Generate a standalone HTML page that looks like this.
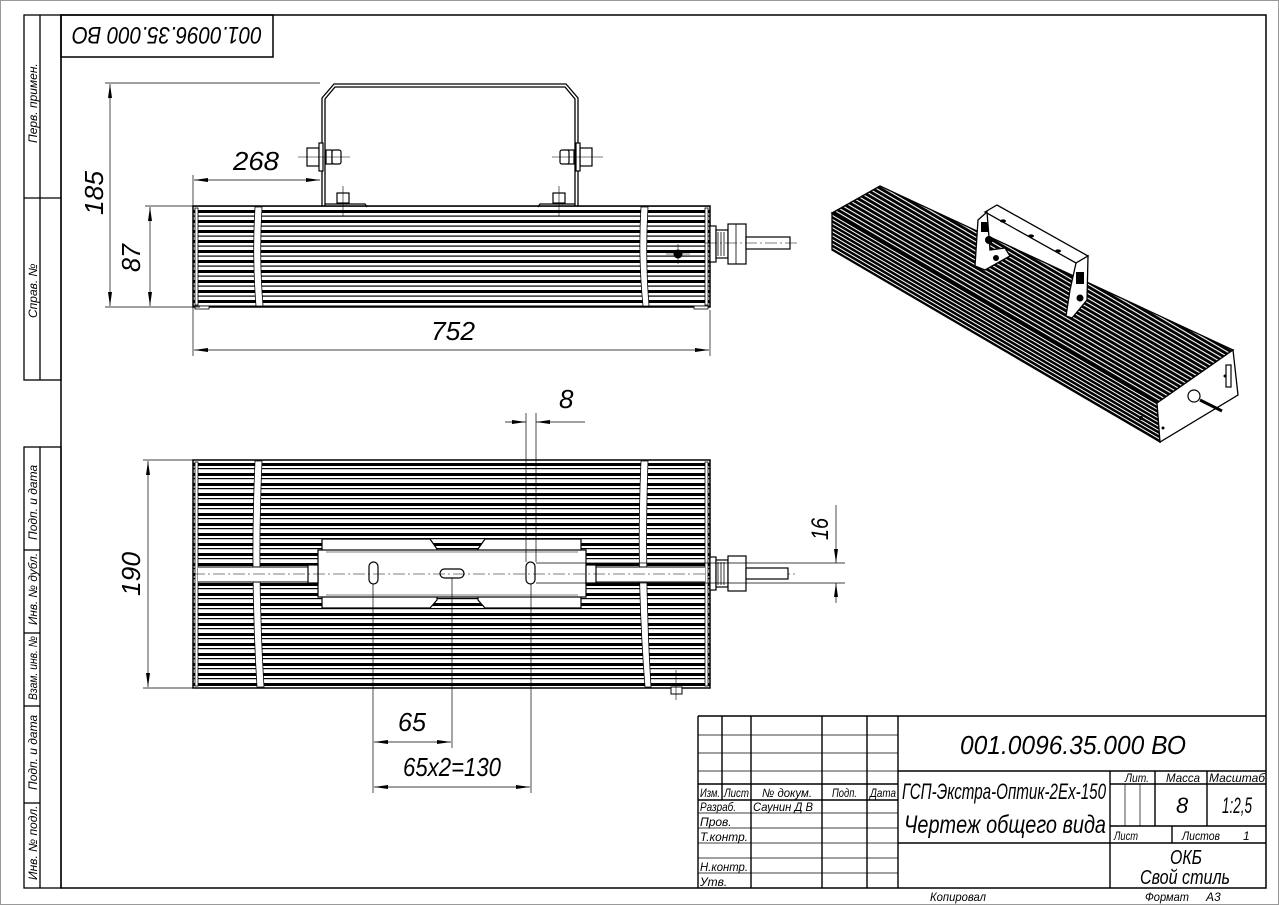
<!DOCTYPE html>
<html><head><meta charset="utf-8"><style>
html,body{margin:0;padding:0;background:#fff}
svg{display:block}
text{font-family:"Liberation Sans Narrow","Liberation Sans","DejaVu Sans",sans-serif;font-style:italic;fill:#000}
</style></head><body>
<svg width="1279" height="905" viewBox="0 0 1279 905" xmlns="http://www.w3.org/2000/svg">
<defs>
<pattern id="rib" patternUnits="userSpaceOnUse" x="0" y="0" width="20" height="10">
<rect width="20" height="10" fill="#fff"/>
<rect y="0" width="20" height="3" fill="#000"/>
<rect y="5.5" width="20" height="1.2" fill="#000"/>
</pattern>
<pattern id="ribp" patternUnits="userSpaceOnUse" x="0" y="461" width="20" height="10">
<rect width="20" height="10" fill="#fff"/>
<rect y="2" width="20" height="3" fill="#000"/>
<rect y="7" width="20" height="1.2" fill="#000"/>
</pattern>
<pattern id="iso" patternUnits="userSpaceOnUse" width="20" height="4" patternTransform="rotate(30.3)">
<rect width="20" height="4" fill="#000"/>
<rect y="0" width="20" height="1.1" fill="#fff"/>
</pattern>
<pattern id="iso2" patternUnits="userSpaceOnUse" width="20" height="3.5" patternTransform="rotate(30.3)">
<rect width="20" height="3.5" fill="#000"/>
<rect y="0" width="20" height="1" fill="#fff"/>
</pattern>
<marker id="ar" markerWidth="14" markerHeight="6" refX="14" refY="3" orient="auto" markerUnits="userSpaceOnUse">
<path d="M0,1 L14,3 L0,5 Z" fill="#000"/>
</marker>
<marker id="al" markerWidth="14" markerHeight="6" refX="0" refY="3" orient="auto" markerUnits="userSpaceOnUse">
<path d="M14,1 L0,3 L14,5 Z" fill="#000"/>
</marker>
</defs>

<rect x="0.5" y="0.5" width="1278" height="904" fill="none" stroke="#999" stroke-width="1"/>
<rect x="61" y="15" width="1205" height="873" fill="none" stroke="#000" stroke-width="1.5"/>

<g stroke="#000" stroke-width="1.3" fill="none">
<rect x="24" y="15" width="37" height="365"/>
<line x1="40" y1="15" x2="40" y2="380"/>
<line x1="24" y1="198" x2="61" y2="198"/>
<rect x="24" y="447" width="37" height="441"/>
<line x1="40" y1="447" x2="40" y2="888"/>
<line x1="24" y1="550" x2="40" y2="550"/>
<line x1="24" y1="633" x2="40" y2="633"/>
<line x1="24" y1="706" x2="40" y2="706"/>
<line x1="24" y1="803" x2="40" y2="803"/>
</g>
<g font-size="12">
<text transform="translate(37,143) rotate(-90)">Перв. примен.</text>
<text transform="translate(37,318) rotate(-90)">Справ. №</text>
<text transform="translate(37,540) rotate(-90)">Подп. и дата</text>
<text transform="translate(37,625) rotate(-90)" textLength="72" lengthAdjust="spacingAndGlyphs">Инв. № дубл.</text>
<text transform="translate(37,700) rotate(-90)" textLength="64" lengthAdjust="spacingAndGlyphs">Взам. инв. №</text>
<text transform="translate(37,790) rotate(-90)">Подп. и дата</text>
<text transform="translate(37,880) rotate(-90)">Инв. № подл.</text>
</g>

<rect x="61" y="15" width="212" height="42" fill="none" stroke="#000" stroke-width="1.5"/>
<text transform="rotate(180 167 36)" x="167" y="45" font-size="24" text-anchor="middle" textLength="190" lengthAdjust="spacingAndGlyphs">001.0096.35.000 ВО</text>

<!-- Side view -->
<rect x="193" y="206" width="517" height="101" fill="url(#rib)" stroke="#000" stroke-width="1.5"/>
<rect x="195" y="208" width="3" height="97" fill="#fff" stroke="#000" stroke-width="0.8"/>
<rect x="705" y="208" width="3" height="97" fill="#fff" stroke="#000" stroke-width="0.8"/>
<path d="M255,207 Q252,256 256,306 L263,306 Q259,256 262,207 Z" fill="#fff" stroke="#000" stroke-width="0.8"/>
<path d="M641,207 Q638,256 643,306 L649,306 Q645,256 648,207 Z" fill="#fff" stroke="#000" stroke-width="0.8"/>
<rect x="195" y="306" width="14" height="3" fill="#fff" stroke="#000" stroke-width="0.8"/>
<rect x="694" y="306" width="14" height="3" fill="#fff" stroke="#000" stroke-width="0.8"/>
<g fill="none" stroke="#000" stroke-width="1.3">
<path d="M322,206 L322,98 L334,84 L566,84 L578,98 L578,206"/>
<path d="M325,206 L325,99 L335,87 L565,87 L575,99 L575,206"/>
<path d="M325,204 L365,204 L367,207"/>
<path d="M575,204 L540,204 L538,207"/>
</g>
<g fill="#fff" stroke="#000" stroke-width="1.2">
<rect x="307" y="148" width="12" height="18"/>
<rect x="319" y="143" width="4" height="28"/>
<rect x="326" y="150" width="6" height="14"/>
<rect x="332" y="150" width="9" height="14" rx="2"/>
<rect x="580" y="148" width="12" height="18"/>
<rect x="576" y="143" width="4" height="28"/>
<rect x="568" y="150" width="6" height="14"/>
<rect x="560" y="150" width="9" height="14" rx="2"/>
<rect x="337" y="193" width="12" height="10"/>
<rect x="553" y="193" width="12" height="10"/>
</g>
<g stroke="#000" stroke-width="0.6">
<line x1="298" y1="157" x2="350" y2="157"/>
<line x1="552" y1="157" x2="603" y2="157"/>
<line x1="343" y1="186" x2="343" y2="216"/>
<line x1="559" y1="186" x2="559" y2="216"/>
</g>
<g fill="#fff" stroke="#000" stroke-width="1.2">
<rect x="710" y="226" width="6" height="36"/>
<rect x="716" y="230" width="12" height="28"/>
<rect x="728" y="224" width="18" height="40"/>
<rect x="746" y="237" width="44" height="12"/>
</g>
<g stroke="#000" stroke-width="0.8"><line x1="718" y1="232" x2="718" y2="256"/><line x1="721" y1="232" x2="721" y2="256"/><line x1="724" y1="232" x2="724" y2="256"/><line x1="736" y1="224" x2="736" y2="264"/></g>
<line x1="705" y1="243" x2="800" y2="243" stroke="#000" stroke-width="0.6" stroke-dasharray="12,3,2,3"/>
<circle cx="678" cy="254" r="4.5" fill="#000"/>
<line x1="666" y1="254" x2="690" y2="254" stroke="#000" stroke-width="0.6"/>
<line x1="678" y1="244" x2="678" y2="264" stroke="#000" stroke-width="0.6"/>

<g stroke="#000" stroke-width="0.7" fill="none">
<line x1="105" y1="83" x2="320" y2="83"/>
<line x1="105" y1="307" x2="200" y2="307"/>
<line x1="145" y1="206" x2="193" y2="206"/>
<line x1="110" y1="84" x2="110" y2="306" marker-start="url(#al)" marker-end="url(#ar)"/>
<line x1="150" y1="207" x2="150" y2="306" marker-start="url(#al)" marker-end="url(#ar)"/>
<line x1="193" y1="175" x2="193" y2="356"/>
<line x1="710" y1="310" x2="710" y2="356"/>
<line x1="194" y1="180" x2="320" y2="180" marker-start="url(#al)" marker-end="url(#ar)"/>
<line x1="194" y1="350" x2="709" y2="350" marker-start="url(#al)" marker-end="url(#ar)"/>
</g>
<text x="233" y="170" font-size="26" textLength="46" lengthAdjust="spacingAndGlyphs">268</text>
<text x="431" y="340" font-size="26" textLength="44" lengthAdjust="spacingAndGlyphs">752</text>
<text transform="translate(103,215) rotate(-90)" font-size="26" textLength="44" lengthAdjust="spacingAndGlyphs">185</text>
<text transform="translate(140,272) rotate(-90)" font-size="26" textLength="28" lengthAdjust="spacingAndGlyphs">87</text>

<!-- Plan view -->
<rect x="193" y="460" width="517" height="228" fill="url(#ribp)" stroke="#000" stroke-width="1.5"/>
<rect x="195" y="462" width="3" height="224" fill="#fff" stroke="#000" stroke-width="0.8"/>
<rect x="705" y="462" width="3" height="224" fill="#fff" stroke="#000" stroke-width="0.8"/>
<path d="M255,461 Q250,574 257,687 L264,687 Q257,574 262,461 Z" fill="#fff" stroke="#000" stroke-width="0.8"/>
<path d="M641,461 Q636,574 645,687 L651,687 Q644,574 648,461 Z" fill="#fff" stroke="#000" stroke-width="0.8"/>
<rect x="198" y="567" width="507" height="15" fill="#fff" stroke="none"/>
<g stroke="#000" stroke-width="1"><line x1="198" y1="567" x2="705" y2="567"/><line x1="198" y1="582" x2="705" y2="582"/></g>
<g fill="#fff" stroke="#000" stroke-width="1.2">
<path d="M322,539 L430,539 L437,549 L437,600 L430,608 L322,608 Z"/>
<path d="M581,539 L485,539 L478,549 L478,600 L485,608 L581,608 Z"/>
<rect x="318" y="550" width="268" height="47"/>
<rect x="308" y="565" width="10" height="18"/>
<rect x="586" y="565" width="10" height="18"/>
<rect x="369" y="562" width="9" height="22" rx="4.5"/>
<rect x="440" y="569" width="24" height="9" rx="4.5"/>
<rect x="526" y="562" width="9" height="22" rx="4.5"/>
</g>
<g stroke="#000" stroke-width="0.6" fill="none">
<line x1="326" y1="552" x2="578" y2="552"/>
<line x1="326" y1="595" x2="578" y2="595"/>
</g>
<line x1="193" y1="574" x2="795" y2="574" stroke="#000" stroke-width="0.6" stroke-dasharray="12,3,2,3"/>
<g fill="#fff" stroke="#000" stroke-width="1.2">
<rect x="710" y="557" width="6" height="33"/>
<rect x="716" y="560" width="12" height="27"/>
<rect x="728" y="556" width="18" height="35"/>
<rect x="746" y="568" width="42" height="11"/>
</g>
<g stroke="#000" stroke-width="0.8"><line x1="718" y1="562" x2="718" y2="585"/><line x1="721" y1="562" x2="721" y2="585"/><line x1="724" y1="562" x2="724" y2="585"/></g>
<rect x="671" y="687" width="11" height="7" fill="#fff" stroke="#000" stroke-width="1"/>
<line x1="676" y1="670" x2="676" y2="700" stroke="#000" stroke-width="0.6"/>

<g stroke="#000" stroke-width="0.7" fill="none">
<line x1="143" y1="460" x2="193" y2="460"/>
<line x1="143" y1="688" x2="193" y2="688"/>
<line x1="148" y1="461" x2="148" y2="687" marker-start="url(#al)" marker-end="url(#ar)"/>
<line x1="526" y1="413" x2="526" y2="562"/>
<line x1="536" y1="413" x2="536" y2="562"/>
<line x1="505" y1="422" x2="526" y2="422" marker-end="url(#ar)"/>
<line x1="585" y1="422" x2="536" y2="422" marker-end="url(#ar)"/>
<line x1="536" y1="563" x2="845" y2="563"/>
<line x1="536" y1="583" x2="845" y2="583"/>
<line x1="836" y1="505" x2="836" y2="563" marker-end="url(#ar)"/>
<line x1="836" y1="603" x2="836" y2="583" marker-end="url(#ar)"/>
<line x1="373" y1="584" x2="373" y2="793"/>
<line x1="452" y1="578" x2="452" y2="748"/>
<line x1="531" y1="584" x2="531" y2="793"/>
<line x1="374" y1="742" x2="451" y2="742" marker-start="url(#al)" marker-end="url(#ar)"/>
<line x1="374" y1="787" x2="530" y2="787" marker-start="url(#al)" marker-end="url(#ar)"/>
</g>
<text x="559" y="408" font-size="26">8</text>
<text transform="translate(828,540) rotate(-90)" font-size="24" textLength="22" lengthAdjust="spacingAndGlyphs">16</text>
<text transform="translate(140,596) rotate(-90)" font-size="26" textLength="44" lengthAdjust="spacingAndGlyphs">190</text>
<text x="398" y="731" font-size="26" textLength="28" lengthAdjust="spacingAndGlyphs">65</text>
<text x="403" y="776" font-size="26" textLength="98" lengthAdjust="spacingAndGlyphs">65x2=130</text>

<!-- Isometric -->
<g stroke="#000" stroke-width="1.3">
<polygon points="832,213 880,186 1233,350 1157,403" fill="url(#iso)"/>
<polygon points="832,213 1157,403 1160,442 832,250" fill="url(#iso2)"/>
<polygon points="1157,403 1233,350 1238,395 1160,442" fill="#fff"/>
</g>
<g fill="#fff" stroke="#000" stroke-width="1.2">
<circle cx="1194" cy="396" r="6"/>
<line x1="1200" y1="400" x2="1222" y2="411" stroke-width="3"/>
<rect x="1226" y="365" width="5" height="22"/>
</g>
<circle cx="1141" cy="418" r="2" fill="#000"/>
<circle cx="1163" cy="428" r="1.5" fill="#000"/>
<circle cx="1225" cy="376" r="1.5" fill="#000"/>
<g fill="#fff" stroke="#000" stroke-width="1.3">
<polygon points="985,212 997,205 1088,256 1076,263"/>
<polygon points="978,220 987,212 990,250 1005,248 1010,256 985,270 975,266"/>
<polygon points="1076,263 1088,256 1087,300 1072,318 1066,316 1070,290"/>
</g>
<g fill="#000">
<circle cx="989" cy="240" r="4"/><circle cx="996" cy="258" r="3"/><circle cx="1080" cy="298" r="3.5"/>
<ellipse cx="1003" cy="221" rx="3" ry="1.6"/><ellipse cx="1031" cy="236" rx="3" ry="1.6"/><ellipse cx="1058" cy="251" rx="3" ry="1.6"/>
<rect x="981" y="222" width="7" height="10"/><rect x="1076" y="272" width="8" height="12"/>
</g>

<!-- Title block -->
<g stroke="#000" stroke-width="1.4" fill="none">
<line x1="698" y1="716" x2="1266" y2="716"/>
<line x1="698" y1="716" x2="698" y2="888"/>
<line x1="722" y1="716" x2="722" y2="800"/>
<line x1="751" y1="716" x2="751" y2="888"/>
<line x1="822" y1="716" x2="822" y2="888"/>
<line x1="867" y1="716" x2="867" y2="888"/>
<line x1="898" y1="716" x2="898" y2="888"/>
<line x1="898" y1="771" x2="1266" y2="771"/>
<line x1="698" y1="784" x2="898" y2="784"/>
<line x1="698" y1="800" x2="898" y2="800"/>
<line x1="1110" y1="771" x2="1110" y2="888"/>
<line x1="898" y1="843" x2="1266" y2="843"/>
<line x1="1110" y1="826" x2="1266" y2="826"/>
<line x1="1110" y1="784" x2="1266" y2="784"/>
<line x1="1155" y1="771" x2="1155" y2="826"/>
<line x1="1207" y1="771" x2="1207" y2="826"/>
<line x1="1172" y1="826" x2="1172" y2="843"/>
</g>
<g stroke="#000" stroke-width="0.7" fill="none">
<line x1="698" y1="735" x2="898" y2="735"/>
<line x1="698" y1="753" x2="898" y2="753"/>
<line x1="698" y1="771" x2="898" y2="771"/>
<line x1="698" y1="813" x2="898" y2="813"/>
<line x1="698" y1="828" x2="898" y2="828"/>
<line x1="698" y1="843" x2="898" y2="843"/>
<line x1="698" y1="858" x2="898" y2="858"/>
<line x1="698" y1="873" x2="898" y2="873"/>
<line x1="1125" y1="784" x2="1125" y2="826"/>
<line x1="1140" y1="784" x2="1140" y2="826"/>
</g>
<g font-size="12">
<text x="700" y="797" textLength="20" lengthAdjust="spacingAndGlyphs">Изм.</text>
<text x="724" y="797" textLength="25" lengthAdjust="spacingAndGlyphs">Лист</text>
<text x="762" y="797" textLength="50" lengthAdjust="spacingAndGlyphs">№ докум.</text>
<text x="832" y="797" textLength="25" lengthAdjust="spacingAndGlyphs">Подп.</text>
<text x="870" y="797" textLength="26" lengthAdjust="spacingAndGlyphs">Дата</text>
<text x="700" y="811" textLength="36" lengthAdjust="spacingAndGlyphs">Разраб.</text>
<text x="753" y="811" textLength="60" lengthAdjust="spacingAndGlyphs">Саунин Д В</text>
<text x="700" y="826">Пров.</text>
<text x="700" y="841" textLength="48" lengthAdjust="spacingAndGlyphs">Т.контр.</text>
<text x="700" y="871" textLength="48" lengthAdjust="spacingAndGlyphs">Н.контр.</text>
<text x="700" y="886">Утв.</text>
<text x="1125" y="782" textLength="24" lengthAdjust="spacingAndGlyphs">Лит.</text>
<text x="1166" y="782" textLength="34" lengthAdjust="spacingAndGlyphs">Масса</text>
<text x="1209" y="782" textLength="56" lengthAdjust="spacingAndGlyphs">Масштаб</text>
<text x="1114" y="840" textLength="24" lengthAdjust="spacingAndGlyphs">Лист</text>
<text x="1182" y="840" textLength="38" lengthAdjust="spacingAndGlyphs">Листов</text>
<text x="1243" y="840">1</text>
<text x="930" y="901" textLength="56" lengthAdjust="spacingAndGlyphs">Копировал</text>
<text x="1145" y="901" textLength="44" lengthAdjust="spacingAndGlyphs">Формат</text>
<text x="1206" y="901">А3</text>
</g>
<text x="960" y="754" font-size="26" textLength="226" lengthAdjust="spacingAndGlyphs">001.0096.35.000 ВО</text>
<text x="902" y="799" font-size="22" textLength="204" lengthAdjust="spacingAndGlyphs">ГСП-Экстра-Оптик-2Ex-150</text>
<text x="904" y="833" font-size="25" textLength="202" lengthAdjust="spacingAndGlyphs">Чертеж общего вида</text>
<text x="1176" y="813" font-size="22">8</text>
<text x="1222" y="813" font-size="22" textLength="30" lengthAdjust="spacingAndGlyphs">1:2,5</text>
<text x="1170" y="864" font-size="20" textLength="32" lengthAdjust="spacingAndGlyphs">ОКБ</text>
<text x="1140" y="884" font-size="20" textLength="90" lengthAdjust="spacingAndGlyphs">Свой стиль</text>
</svg>
</body></html>
